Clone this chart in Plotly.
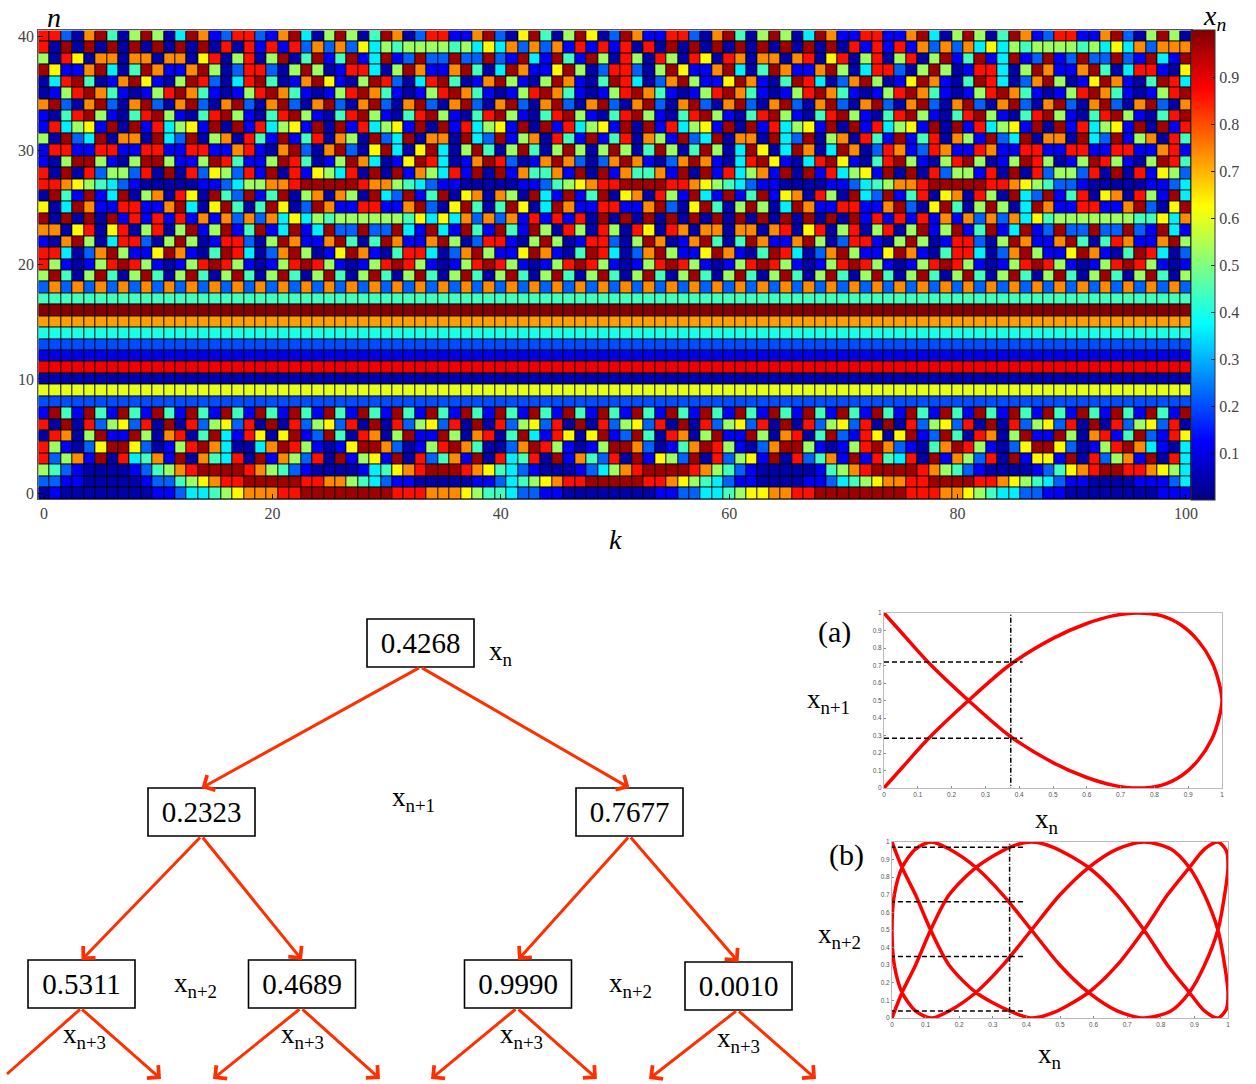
import plotly.graph_objects as go

W, H = 1256, 1084
SERIF = "Liberation Serif"

# ---- heatmap data: x_n read cell by cell; digits are colour classes ----
CODE_VALUES = {"0": .04, "1": .12, "2": .22, "3": .36, "4": .44,
               "5": .53, "6": .63, "7": .74, "8": .86, "9": .97}

rows_40_to_18 = [
    "882079405950397128821793059504970" "288117920694059602971188207940595039" "71188117930595049712881179205950",
    "809090909090909080818182727263 5".replace(" ", "") + "" "455554536372727181818080909090909090" "90908181817272736354555545363727",
    "508607707707706805805904914913912" "922922921931941950850850860870770780" "68058058059149139129129229219319",
    "961179304971179502882059501883059" "711794039711695028820596117930497117" "95038820595018830597117940388106",
    "038940179610598203894017961059820" "389401795105971049830279511697104983" "02795016971049830279501697104983",
    "015897410158974101589741015897410" "158974101589741015897410158974101589" "74101589741015897410158974101589",
    "792079207920792079207920792079207" "920792079207920792079207920792079207" "92079207920792079207920792079207",
    "104895104895104895104895104895104" "895104895104895104895104895104895104" "89510489510489510489510489510489",
    "183561909183561909183561909183561" "909183561909183561909183561909183561" "90918356190918356190918356190918",
    "509239077093290570841914807509239" "077093291570841914807519239077093290" "57084191480751923907709329157084",
    "188118811881188117810792079206930" "693059405940595059504950495039603970" "39702871287118711881188118811781",
    "105995105995115984115984015973016" "983017982017972027971027971038961038" "96104895105895015985015985105984",
    "809082552809082652819081653809091" "753819091744719091744719091835719091" "83561909082551809082552809081652",
    "887654321000001123557789999987754" "321100000112456788999988765432110000" "11234577899999887654221000001123",
    "094191390570860942914905707509329" "149067075093191490670851931914916708" "50932914806708509329148067085193",
    "603971188117930694049602971188117" "920694049603971188117920694059503971" "18811792069405950397118811792069",
    "909090918181817172727363545555554" "636372727181818090909090909090909090" "90918181817172727364555555544637",
    "770680680580591591491391392292293" "193194194195085085086087077077078068" "05805805915914913912922922921931",
    "107950388205950188205971179404971" "179502881059501882059701794049711795" "02881059501882059711794048711795",
    "883027951169710498302795016971048" "830279511697104983027951169710498302" "79511697104883027951169710498302",
    "851015898510158985101589851015898" "510158985101589851015898510158985101" "58985101589851015898510158985101",
    "594059405940594059405940594059405" "940594059405940594059405940594059405" "94059405940594059405940594059405",
    "272727272727272727272727272727272" "727272727272727272727272727272727272" "72727272727272727272727272727272",
]
band_values_17_to_8 = [.44, .995, .72, .40, .20, .10, .89, .045, .60, .20]
rows_7_to_0 = [
    "194194194194194194194194194194194" "194194194194194194194194194194194194" "19419419419419419419419419419419",
    "809082562809082562809082562809082" "562809082562809082562809082562809082" "56280908256280908256280908256280",
    "087059119507804931860691294087059" "119507804931860691294087059119507804" "92186069129408705911950781492186",
    "851026996201589730037985101699720" "158974002798510159972014798510279951" "01589721047985102699620158973103",
    "825719083471907438091752809156190" "824719083480917428091652908256190824" "71918438091752809166190825719083",
    "542100001245789999875421000013467" "899987643210001235789999875421000001" "45789999875421000012467899887653",
    "221100000122456788999998877543211" "000001123456788999998876543211000011" "23456778899998876543211000011123",
    "010000000011233456777889999999988" "877765443221100000000112233456677889" "99999998887765433221100000000111",
]

def decode(s):
    s = (s + s[-1] * 101)[:101]
    return [CODE_VALUES[c] for c in s]

z_top_down = [decode(s) for s in rows_40_to_18]
z_top_down += [[v] * 101 for v in band_values_17_to_8]
z_top_down += [decode(s) for s in rows_7_to_0]
z = z_top_down[::-1]
k_values = list(range(101))
n_values = list(range(41))

JET = [[0, "rgb(0,0,127)"], [.125, "rgb(0,0,255)"], [.375, "rgb(0,255,255)"],
       [.625, "rgb(255,255,0)"], [.875, "rgb(255,0,0)"], [1, "rgb(128,0,0)"]]

# ---- return-map curves (a) and (b) ----
a_x = [0, .06, .13, .25, .37, .5, .6, .68, .75, .82, .88, .93, .97, .99, 1,
       .99, .97, .93, .88, .82, .75, .68, .6, .5, .37, .25, .13, .06, 0]
a_y = [0, .13, .28, .5, .7, .855, .94, .985, 1, .985, .93, .84, .72, .61, .5,
       .39, .28, .16, .07, .015, 0, .015, .06, .145, .3, .5, .72, .87, 1]
b_x = [0, .03, .07, .115, .17, .25, .35, .415, .48, .585, .67, .75, .82, .885, .93, .97, .995, 1, .99, .97, .93, .885,
       .83, .75, .67, .585, .5, .415, .33, .25, .17, .117, .07, .03, .007, 0, .007, .03, .07, .117, .17, .25, .33, .415,
       .5, .585, .67, .75, .83, .885, .93, .97, .99, 1, .995, .97, .93, .885, .82, .75, .67, .585, .48, .415, .35, .25,
       .17, .115, .07, .03, 0]
b_y = [0, .145, .3, .5, .7, .855, .97, 1, .97, .855, .7, .5, .3, .145, .04, 0, .05, .145, .3, .5, .7, .855,
       .96, 1, .96, .855, .7, .5, .3, .145, .04, 0, .04, .145, .3, .5, .7, .855, .96, 1, .96, .855, .7, .5,
       .3, .145, .04, 0, .04, .145, .3, .5, .7, .855, .95, 1, .96, .855, .7, .5, .3, .145, .03, 0, .04, .145,
       .3, .5, .7, .855, 1]
a_cut_x, a_cut_levels = .375, [.72, .285]
b_cut_x, b_cut_levels = .35, [.97, .66, .35, .04]

# ---- tree ----
node_text = ["0.4268", "0.2323", "0.7677", "0.5311", "0.4689", "0.9990", "0.0010"]
node_cx = [420.5, 201.5, 629.5, 81.5, 302, 518, 738.5]
node_cy = [643, 812, 812, 984, 984, 984, 986]
edges = [(0, 1), (0, 2), (1, 3), (1, 4), (2, 5), (2, 6)]
leaf_tips = [(161, 1079), (213, 1079), (380, 1079), (431, 1079), (597, 1079), (649, 1079), (816, 1079)]
leaf_from = [3, 4, 4, 5, 5, 6, 6]
tree_labels = [("x<sub>n</sub>", 501, 653), ("x<sub>n+1</sub>", 413, 799),
               ("x<sub>n+2</sub>", 195, 985), ("x<sub>n+2</sub>", 630, 985),
               ("x<sub>n+3</sub>", 84, 1036), ("x<sub>n+3</sub>", 302, 1036),
               ("x<sub>n+3</sub>", 521, 1036), ("x<sub>n+3</sub>", 738, 1040)]
side_labels = [("(a)", 834, 632, 30), ("x<sub>n+1</sub>", 828, 701, 27), ("x<sub>n</sub>", 1047, 821, 27),
               ("(b)", 846, 855, 30), ("x<sub>n+2</sub>", 839, 936, 27), ("x<sub>n</sub>", 1050, 1056, 27)]


def dx(a, b):
    return [a / W, b / W]


def dy(top, bottom):
    return [1 - bottom / H, 1 - top / H]


fig = go.Figure()

# heatmap
fig.add_trace(go.Heatmap(
    z=z, x=k_values, y=n_values, zmin=0, zmax=1, colorscale=JET, xgap=1, ygap=1,
    xaxis="x", yaxis="y", hoverinfo="skip",
    colorbar=dict(x=1191 / W, xanchor="left", xpad=0, ypad=0, thickness=24,
                  y=1 - 500 / H, yanchor="bottom", len=470 / H, lenmode="fraction",
                  outlinewidth=1, outlinecolor="#333333", ticks="inside", ticklen=4, tickcolor="#111111",
                  tickvals=[.1, .2, .3, .4, .5, .6, .7, .8, .9],
                  tickfont=dict(family=SERIF, size=16, color="#444444"))))

# panel (a)
RED = "#ff0000"
fig.add_trace(go.Scatter(x=a_x, y=a_y, mode="lines", xaxis="x2", yaxis="y2", cliponaxis=False,
                         line=dict(color=RED, width=3.5, shape="spline", smoothing=0.8), hoverinfo="skip"))
for lv in a_cut_levels:
    fig.add_trace(go.Scatter(x=[0, .41], y=[lv, lv], mode="lines", xaxis="x2", yaxis="y2", cliponaxis=False,
                             line=dict(color="black", width=1.5, dash="5px,3px"), hoverinfo="skip"))
fig.add_trace(go.Scatter(x=[a_cut_x, a_cut_x], y=[1.03, -.05], mode="lines", xaxis="x2", yaxis="y2", cliponaxis=False,
                         line=dict(color="black", width=1.5, dash="5px,2px,1px,2px"), hoverinfo="skip"))

# panel (b)
fig.add_trace(go.Scatter(x=b_x, y=b_y, mode="lines", xaxis="x3", yaxis="y3", cliponaxis=False,
                         line=dict(color=RED, width=3.5, shape="spline", smoothing=0.8), hoverinfo="skip"))
for lv in b_cut_levels:
    fig.add_trace(go.Scatter(x=[-.03, .39], y=[lv, lv], mode="lines", xaxis="x3", yaxis="y3", cliponaxis=False,
                             line=dict(color="black", width=1.5, dash="5px,3px"), hoverinfo="skip"))
fig.add_trace(go.Scatter(x=[b_cut_x, b_cut_x], y=[1.03, -.05], mode="lines", xaxis="x3", yaxis="y3", cliponaxis=False,
                         line=dict(color="black", width=1.5, dash="5px,2px,1px,2px"), hoverinfo="skip"))

# tree nodes on a full-page overlay axis
fig.add_trace(go.Scatter(x=node_cx, y=[c + 3 for c in node_cy], text=node_text, mode="text", xaxis="x4", yaxis="y4",
                         textfont=dict(family=SERIF, size=29, color="black"), textposition="middle center",
                         hoverinfo="skip"))

BOX_W, BOX_H = 107, 48
shapes = [dict(type="rect", xref="x4", yref="y4", x0=cx - BOX_W / 2, x1=cx + BOX_W / 2,
               y0=cy - BOX_H / 2, y1=cy + BOX_H / 2, line=dict(color="black", width=1.6))
          for cx, cy in zip(node_cx, node_cy)]
# black behind the heatmap so that the cell gaps read as grid lines
shapes.append(dict(type="rect", xref="x", yref="y", x0=-.5, x1=100.5, y0=-.5, y1=40.5,
                   fillcolor="black", line=dict(width=0), layer="below"))

annotations = []
ARROW = "#ff3000"


def arrow(x0, y0, x1, y1, head=4):
    annotations.append(dict(x=x1, y=y1, ax=x0, ay=y0, xref="x4", yref="y4", axref="x4", ayref="y4", text="",
                            showarrow=True, arrowhead=head, arrowsize=1.1, arrowwidth=3, arrowcolor=ARROW, standoff=0))


for p, c in edges:
    arrow(node_cx[p], node_cy[p] + BOX_H / 2, node_cx[c], node_cy[c] - BOX_H / 2)
for p, (tx, ty) in zip(leaf_from, leaf_tips):
    arrow(node_cx[p] - (1 if p else 0), node_cy[p] + BOX_H / 2, tx, ty)
arrow(node_cx[3], node_cy[3] + BOX_H / 2, 7, 1074, head=0)


def label(text, x, y, size=27):
    annotations.append(dict(x=x, y=y, xref="x4", yref="y4", text=text, showarrow=False,
                            xanchor="center", yanchor="middle",
                            font=dict(family=SERIF, size=size, color="black")))


for t, x, y in tree_labels:
    label(t, x, y)
for t, x, y, s in side_labels:
    label(t, x, y, s)
label("<i>n</i>", 54, 17, 28)
label("<i>k</i>", 615, 539, 28)
label("<i>x<sub>n</sub></i>", 1214, 17, 28)

main_tick = dict(family=SERIF, size=16, color="#444444")
small_tick = dict(family="Liberation Sans", size=6.5, color="#555555")
TICKS_01 = [0, .1, .2, .3, .4, .5, .6, .7, .8, .9, 1]
TICKTEXT = ["0", "0.1", "0.2", "0.3", "0.4", "0.5", "0.6", "0.7", "0.8", "0.9", "1"]
small = dict(range=[0, 1], showgrid=False, zeroline=False, showline=True, linecolor="#bbbbbb", linewidth=1,
             mirror=True, ticks="inside", ticklen=2, tickcolor="#888888", tickvals=TICKS_01, ticktext=TICKTEXT,
             tickfont=small_tick)

fig.update_layout(
    width=W, height=H, margin=dict(l=0, r=0, t=0, b=0, autoexpand=False), autosize=False,
    paper_bgcolor="white", plot_bgcolor="rgba(0,0,0,0)", showlegend=False,
    shapes=shapes, annotations=annotations,
    xaxis=dict(domain=dx(38.3, 1191.7), range=[-.5, 100.5], anchor="y", tickvals=[0, 20, 40, 60, 80, 100],
               ticks="inside", ticklen=5, tickcolor="black", showgrid=False, zeroline=False, showline=True,
               linecolor="#555555", mirror=True, tickfont=main_tick),
    yaxis=dict(domain=dy(30.4, 499), range=[-.5, 40.5], anchor="x", tickvals=[0, 10, 20, 30, 40],
               ticks="inside", ticklen=5, tickcolor="black", showgrid=False, zeroline=False, showline=True,
               linecolor="#555555", mirror=True, tickfont=main_tick),
    xaxis2=dict(domain=dx(884, 1222), anchor="y2", **small),
    yaxis2=dict(domain=dy(613, 788), anchor="x2", **small),
    xaxis3=dict(domain=dx(892, 1228), anchor="y3", **small),
    yaxis3=dict(domain=dy(842, 1018), anchor="x3", **small),
    xaxis4=dict(domain=[0, 1], range=[0, W], anchor="y4", visible=False, fixedrange=True),
    yaxis4=dict(domain=[0, 1], range=[H, 0], anchor="x4", visible=False, fixedrange=True),
)

fig.write_html("out.html", config={"displayModeBar": False},
               post_script="document.body.style.margin='0';")
